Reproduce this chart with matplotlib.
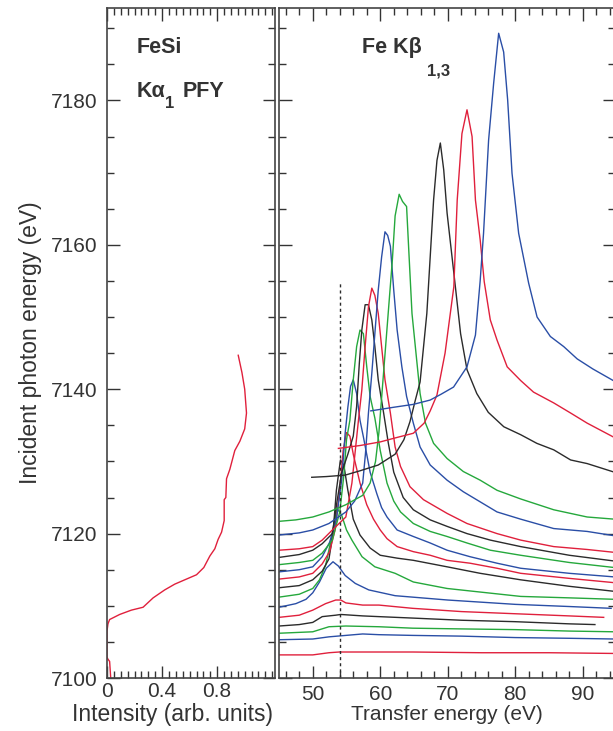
import matplotlib
matplotlib.use('Agg')
import matplotlib.pyplot as plt
from matplotlib.ticker import MultipleLocator

plt.rcParams['font.family'] = ['Liberation Sans', 'DejaVu Sans']

TXT = '#333333'
RED = '#e0203c'
BLUE = '#2a4ea6'
GREEN = '#25a83c'
BLACK = '#2b2b2b'

# Ka1 PFY (intensity, incident energy)
pfy_int = [0.953, 0.98, 1.0, 1.013, 1.0, 0.965, 0.928, 0.892, 0.868, 0.863, 0.851, 0.851,
           0.832, 0.807, 0.783, 0.747, 0.703, 0.65, 0.577, 0.492, 0.419, 0.335, 0.262,
           0.177, 0.092, 0.019, 0.007, 0.0, 0.0, 0.007, 0.019, 0.027]
pfy_e = [7144.7, 7142.3, 7140.0, 7136.7, 7134.5, 7132.8, 7131.5, 7128.9, 7127.6, 7125.0, 7124.7,
         7121.8, 7120.2, 7119.2, 7117.9, 7116.9, 7115.3, 7114.3, 7113.7, 7113.0, 7112.2,
         7111.1, 7109.8, 7109.4, 7108.8, 7108.1, 7107.5, 7106.5, 7102.9, 7102.6, 7102.3, 7100.0]

# Kb1,3 RIXS spectra, bottom to top: transfer energy vs offset intensity
spec_colors = [RED, BLUE, GREEN, BLACK] * 4 + [RED, BLUE]

spec_x = [
    [45, 50, 52.4, 53.9, 59.8, 64.8, 75, 85, 94.7],
    [45, 50, 52.4, 54.9, 57.4, 59.8, 64.8, 72, 80, 88, 94.7],
    [45, 50, 52.4, 54.9, 59.8, 64.8, 72, 80, 88, 94.7],
    [45, 48, 50, 51.4, 53.4, 54.15, 57.4, 59.8, 64.8, 72, 80, 88, 91.8],
    [45, 48, 50, 51.9, 53.4, 54.15, 54.9, 57.4, 59.8, 64.8, 72, 80, 88, 93.1],
    [45, 47.5, 49, 50, 51, 52, 53, 53.8, 54.8, 56.3, 58.3, 62.2, 64.8, 70, 80, 88, 94.2],
    [45, 48, 50, 51, 51.9, 52.8, 53.6, 54.3, 55, 55.8, 57.3, 59.2, 62.2, 64.9, 69.9, 80.8, 88, 94.7],
    [45, 48, 50, 51.4, 52.4, 53.0, 53.5, 54.1, 54.6, 55.2, 56, 57, 58.5, 60, 62.5, 64.9, 69.9,
     74.8, 80.8, 88, 94.7],
    [45, 48, 50, 51.4, 52.5, 53.3, 54, 54.5, 55, 55.5, 56, 57, 58, 59, 60, 61, 62.5, 64.9, 67.4,
     69.9, 73.3, 77.3, 80.8, 88, 94.7],
    [45, 48, 50, 51.4, 52.5, 53.5, 54.3, 54.8, 55.2, 55.6, 56.0, 56.5, 57.0, 57.5, 58.5, 59.5,
     60.2, 61.0, 62.5, 64.9, 67.4, 69.9, 73.3, 77.3, 80.8, 88, 94.7],
    [45, 48, 50, 51.4, 52.9, 54, 54.6, 55.0, 55.5, 56.0, 56.5, 57.0, 57.5, 58.0, 58.5, 59.2, 60,
     61, 62, 63, 64.9, 67.4, 69.9, 72.85, 76.3, 80.8, 88, 94.7],
    [45, 48, 50, 51.4, 52.9, 53.6, 54.3, 55.2, 56.0, 56.5, 56.9, 57.27, 57.76, 58.25, 58.75, 59.2,
     59.7, 60.5, 61.2, 62, 63.4, 64.9, 67.4, 69.9, 72.85, 76.3, 80.8, 88, 94.7],
    [45, 48, 50, 51.4, 52.9, 54.9, 55.8, 56.77, 57.27, 57.76, 58.25, 58.75, 59.2, 59.7, 60.2,
     60.7, 61.5, 62.2, 63, 64.4, 66.4, 69.9, 72.85, 77.3, 80.8, 85.7, 90.65, 94.7],
    [45, 48, 50, 52.4, 54.9, 56.2, 57.4, 57.8, 58.25, 58.75, 59.2, 59.7, 60.2, 60.7, 61.1, 61.5,
     62, 62.5, 63.2, 63.9, 64.9, 65.9, 67.4, 69.9, 72.3, 74.8, 77.3, 80.8, 85.7, 90.65, 94.7],
    [45, 47.5, 50, 52.4, 54.9, 57.4, 58.5, 59.3, 59.8, 60.3, 60.8, 61.3, 61.8, 62.2, 62.8, 63.3,
     63.9, 64.2, 64.7, 65.4, 65.9, 66.7, 67.9, 69.9, 72.3, 74.8, 77.3, 80.8, 85.7, 90.65, 94.7],
    [49.85, 52, 54.8, 57, 59.7, 62.2, 63.5, 64.4, 65.2, 65.9, 66.9, 67.9, 68.4, 68.9, 69.4, 69.9,
     70.9, 71.9, 72.85, 74.3, 76, 78.3, 80.8, 83.2, 85.7, 88.2, 90.65, 94.7],
    [53.8, 57, 60, 62, 64.9, 66.5, 67.4, 68.4, 69.6, 70.9, 71.4, 72.1, 72.85, 73.6, 74.1, 74.8,
     75.4, 76.3, 77.3, 78.8, 80.8, 82.7, 85.7, 88.2, 90.65, 94.7],
    [58.6, 62, 64.9, 67.4, 69, 70.86, 72.85, 74.1, 74.8, 75.3, 76.05, 76.8, 77.54, 78.28, 78.87,
     79.52, 80.5, 81.98, 83.23, 85.2, 87.18, 89.17, 91.5, 94.7],
]

spec_y = [
    [7103.2, 7103.2, 7103.5, 7103.6, 7103.6, 7103.6, 7103.5, 7103.5, 7103.4],
    [7105.3, 7105.4, 7105.7, 7105.9, 7106.1, 7106.0, 7105.9, 7105.8, 7105.6, 7105.5, 7105.4],
    [7106.2, 7106.4, 7107.1, 7107.2, 7107.1, 7106.9, 7106.8, 7106.7, 7106.5, 7106.4],
    [7107.2, 7107.4, 7107.7, 7108.5, 7108.7, 7108.8, 7108.6, 7108.5, 7108.3, 7108.0, 7107.8,
     7107.5, 7107.4],
    [7108.4, 7108.7, 7109.4, 7110.3, 7110.8, 7110.8, 7110.4, 7110.1, 7110.1, 7109.65, 7109.2,
     7108.9, 7108.6, 7108.4],
    [7109.8, 7110.3, 7110.9, 7111.8, 7113.3, 7115.2, 7116.1, 7115.5, 7114.2, 7113.1, 7112.2,
     7111.4, 7111.2, 7110.8, 7110.2, 7109.9, 7109.65],
    [7111.2, 7111.6, 7112.4, 7113.6, 7115.6, 7119.5, 7123.5, 7122.5, 7120.5, 7119.1, 7116.8,
     7115.4, 7114.5, 7113.3, 7112.4, 7111.3, 7111.1, 7110.9],
    [7112.5, 7112.8, 7113.6, 7114.8, 7116.5, 7120, 7126, 7130.2, 7129.5, 7126, 7122, 7119.8,
     7118, 7117, 7116.6, 7116.3, 7115.4, 7114.5, 7113.6, 7112.7, 7112.0],
    [7113.7, 7114, 7114.5, 7115.8, 7117.5, 7120.5, 7126, 7131.5, 7134, 7133.5, 7131, 7127, 7124,
     7122, 7120.5, 7119.3, 7118.2, 7117.5, 7117.0, 7116.3, 7115.9, 7115.2, 7114.5, 7113.8, 7113.2],
    [7114.7, 7115, 7115.4, 7116.8, 7118.8, 7122, 7127.5, 7133.9, 7137.5, 7140.4, 7141.3, 7139.4,
     7135.7, 7133.4, 7128.5, 7125.5, 7123.6, 7122.3, 7120.5, 7119.6, 7118.7, 7117.7, 7116.8,
     7115.9, 7115.2, 7114.5, 7114.0],
    [7115.7, 7116, 7116.3, 7117.3, 7119.1, 7123, 7128, 7133, 7135.7, 7141.3, 7145.9, 7148.2,
     7147.7, 7143.1, 7139, 7136, 7131.5, 7127, 7124.5, 7123, 7121.4, 7120.3, 7119.6, 7118.7,
     7117.7, 7117.0, 7116.0, 7115.3],
    [7116.7, 7117.1, 7117.7, 7118.6, 7120, 7124.5, 7128.5, 7131, 7133.5, 7137.6, 7143.6, 7148.2,
     7151.7, 7151.7, 7149.6, 7145.9, 7141.3, 7136.7, 7132.5, 7128.5, 7125, 7123.3, 7121.9,
     7121.0, 7120.0, 7119.1, 7118.2, 7117, 7116.2],
    [7117.7, 7117.9, 7118.2, 7119.1, 7120.5, 7122.3, 7127, 7135.7, 7139.9, 7145.9, 7151.4,
     7154.0, 7153, 7150.5, 7145.9, 7141.3, 7136.7, 7132, 7129.3, 7126.5, 7124.7, 7122.8, 7121.4,
     7120.0, 7119.1, 7118.2, 7117.8, 7117.4],
    [7119.8, 7120.1, 7120.5, 7121.4, 7123.0, 7124.5, 7127, 7131, 7136.7, 7142.2, 7147.7, 7153.7,
     7158.3, 7161.8, 7161.3, 7159.8, 7153.7, 7148.2, 7143.1, 7139, 7135.3, 7132, 7129.5, 7127.4,
     7125.8, 7124.4, 7123, 7122.0, 7120.7, 7120.3, 7119.7],
    [7121.7, 7121.9, 7122.3, 7123.0, 7124.0, 7125.3, 7127, 7130, 7134, 7140, 7146, 7152, 7158,
     7164, 7167, 7166, 7165.3, 7159.7, 7150.5, 7144, 7139.4, 7135.3, 7132.5, 7130.4, 7128.6,
     7127.4, 7126.0, 7124.8, 7123.3, 7122.3, 7122.0],
    [7127.8, 7127.9, 7128.1, 7128.7, 7129.5, 7131, 7133, 7135.5, 7138.5, 7141, 7150.5, 7166.2,
     7171.7, 7174.1, 7170.4, 7164.4, 7156.1, 7147.7, 7142.7, 7139.4, 7136.8, 7134.8, 7133.7,
     7132.5, 7131.6, 7130.2, 7129.7, 7128.5],
    [7131.8, 7132.2, 7132.7, 7133.2, 7133.9, 7135.3, 7137, 7139.2, 7145, 7154.2, 7166.2, 7175.4,
     7178.7, 7175, 7166.2, 7160.7, 7154.9, 7149.6, 7146.8, 7143.1, 7141.2, 7139.6, 7138.1,
     7136.7, 7135.3, 7133.3],
    [7137.0, 7137.5, 7137.9, 7138.5, 7139.3, 7140.3, 7143.1, 7147.5, 7155, 7161.6, 7174.5,
     7182.4, 7189.3, 7186.7, 7180.1, 7169.9, 7161.6, 7154.7, 7150.0, 7147.3, 7145.9, 7144.2,
     7142.8, 7141.1],
]

marker_x = 54.0
marker_top = 7155.0

W, H = 613, 731
fig = plt.figure(figsize=(W / 100, H / 100), dpi=100)
ax1 = fig.add_axes([107 / W, 53 / H, 168 / W, 670 / H])
ax2 = fig.add_axes([279 / W, 53 / H, 335.5 / W, 670 / H])

for ax in (ax1, ax2):
    ax.set_ylim(7100, 7192.8)
    ax.yaxis.set_major_locator(MultipleLocator(20))
    ax.yaxis.set_minor_locator(MultipleLocator(5))
    ax.tick_params(which='both', direction='in', top=True, right=True,
                   colors=TXT, labelsize=15, width=1.0)
    ax.tick_params(which='major', length=9)
    ax.tick_params(which='minor', length=5)
    for s in ax.spines.values():
        s.set_color('#444444')
        s.set_linewidth(1.2)

# left panel: PFY
ax1.plot(pfy_int, pfy_e, color=RED, lw=1.0)
ax1.set_xlim(0, 1.22)
ax1.set_xticks([0, 0.4, 0.8])
ax1.set_xticklabels(['0', '0.4', '0.8'])
ax1.xaxis.set_minor_locator(MultipleLocator(0.05))
ax1.tick_params(axis='y', pad=7)
ax1.tick_params(axis='x', pad=3)
ax1.set_xlabel('Intensity (arb. units)', fontsize=16.5, color=TXT)
ax1.xaxis.set_label_coords(0.39, -0.037)
ax1.set_ylabel('Incident photon energy (eV)', fontsize=16.5, color=TXT, labelpad=6)

# panel titles, placed in figure pixels
def label(x, y, s, size=15.5):
    fig.text(x / W, 1 - y / H, s, fontsize=size, fontweight='bold', color=TXT,
             ha='left', va='baseline')

label(137, 53, 'FeSi')
label(137, 97, 'Kα')
label(165, 108, '1', 12)
label(183, 97, 'PFY')
label(362, 53, 'Fe Kβ')
label(427, 75, '1,3', 12)

# right panel: RIXS spectra
for xs, ys, c in zip(spec_x, spec_y, spec_colors):
    ax2.plot(xs, ys, color=c, lw=1.0)
ax2.plot([marker_x, marker_x], [7100, marker_top], color=BLACK, lw=1.0,
         linestyle=(0, (2.2, 2.2)))
ax2.set_xlim(45, 94.7)
ax2.xaxis.set_major_locator(MultipleLocator(10))
ax2.xaxis.set_minor_locator(MultipleLocator(2))
ax2.tick_params(axis='y', labelleft=False)
ax2.tick_params(axis='x', pad=5)
ax2.set_xlabel('Transfer energy (eV)', fontsize=15, color=TXT, labelpad=1)

fig.savefig('out.png', dpi=100)
